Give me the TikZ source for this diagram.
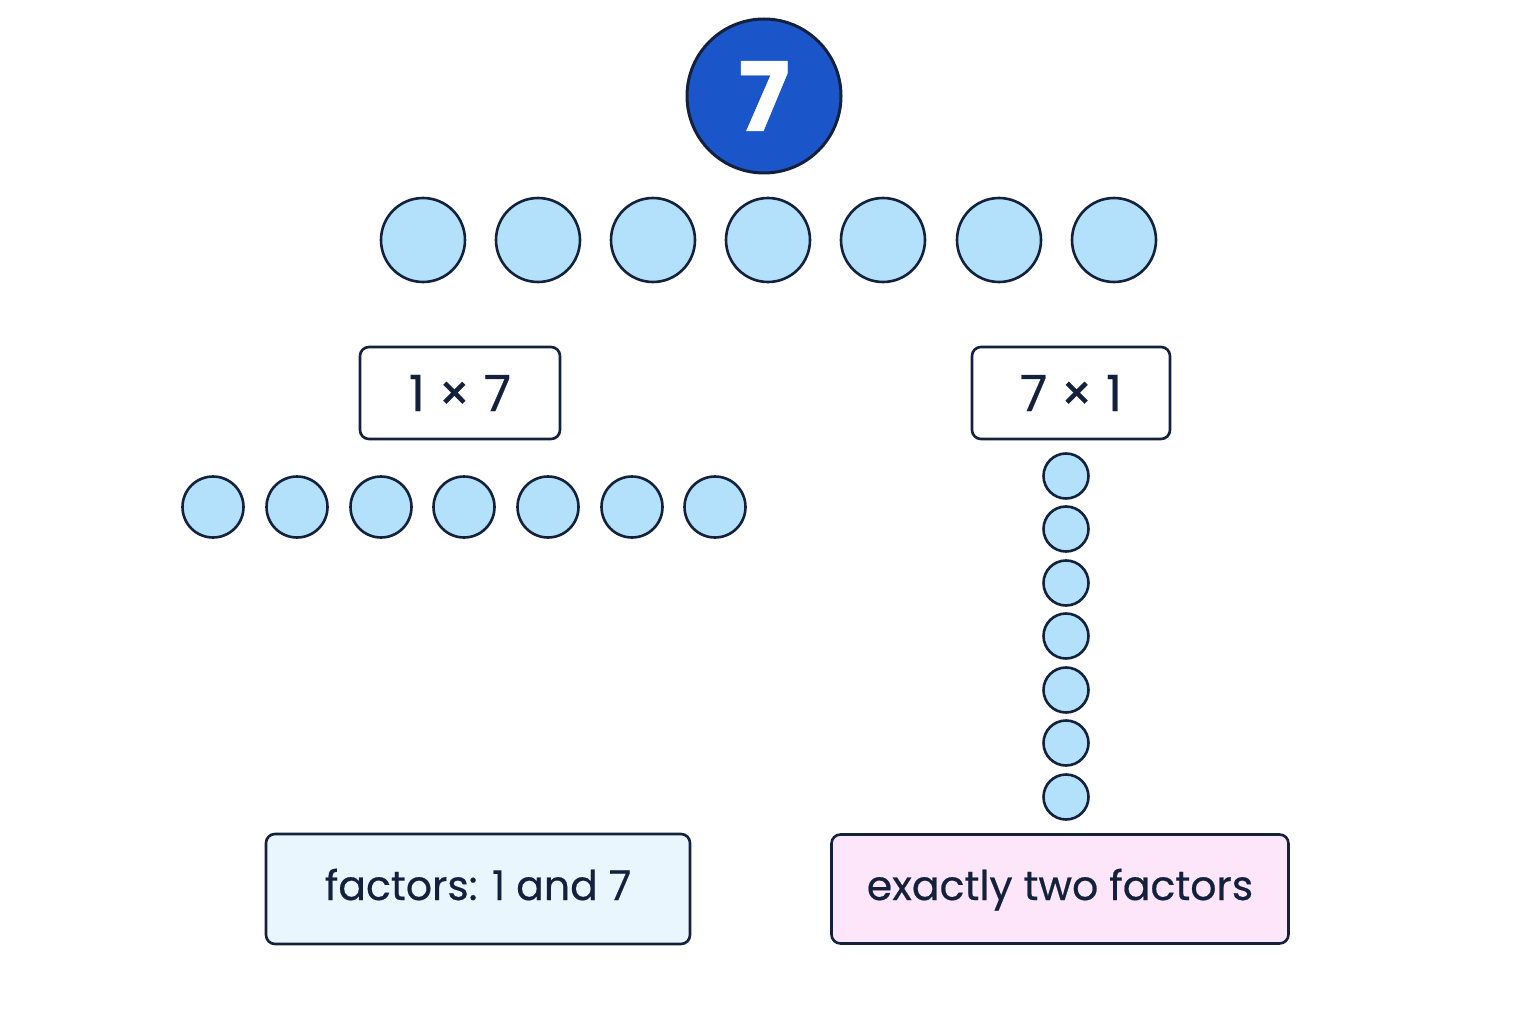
\documentclass[tikz,border=0pt]{standalone}
\usepackage{fontspec}
\setmainfont{Poppins}[FakeBold=0.5]
\definecolor{ink}{HTML}{14213D}
\definecolor{dot}{HTML}{B3E0FA}
\definecolor{big}{HTML}{1A56C9}
\definecolor{lblue}{HTML}{EAF6FE}
\definecolor{lpink}{HTML}{FDE6FA}
\begin{document}
\begin{tikzpicture}[x=1pt,y=-1pt,
  dotc/.style={circle,draw=ink,line width=2.6pt,fill=dot,inner sep=0pt},
  box/.style={draw=ink,line width=2.6pt,rounded corners=9pt,fill=white,text=ink,inner sep=0pt}]
\fill[white] (0,0) rectangle (1536,1024);
\useasboundingbox (0,0) rectangle (1536,1024);
\node[circle,draw=ink,line width=3pt,fill=big,minimum size=154pt,text=white,font=\fontsize{96}{100}\selectfont\bfseries] (seven) at (764,96) {7};
\foreach \x [count=\i] in {423,538,653,768,883,999,1114}
  \node[dotc,minimum size=84pt] (t\i) at (\x,240) {};
\node[box,minimum width=200pt,minimum height=92pt,font=\fontsize{50}{54}\selectfont] (b17) at (460,393) {1 × 7};
\node[box,minimum width=198pt,minimum height=92pt,font=\fontsize{50}{54}\selectfont] (b71) at (1071,393) {7 × 1};
\foreach \x [count=\i] in {213,297,381,464,548,632,715}
  \node[dotc,minimum size=61pt] (l\i) at (\x,507) {};
\foreach \y [count=\i] in {476,529,583,636,690,743,797}
  \node[dotc,minimum size=45pt] (v\i) at (1066,\y) {};
\node[box,fill=lblue,minimum width=424pt,minimum height=110pt,text height=30pt,text depth=8pt,font=\fontsize{41}{46}\selectfont] (f) at (478,889) {factors: 1 and 7};
\node[box,fill=lpink,minimum width=457pt,minimum height=109pt,text height=30pt,text depth=8pt,font=\fontsize{41}{46}\selectfont] (e) at (1060,889) {exactly two factors};
\end{tikzpicture}
\end{document}
